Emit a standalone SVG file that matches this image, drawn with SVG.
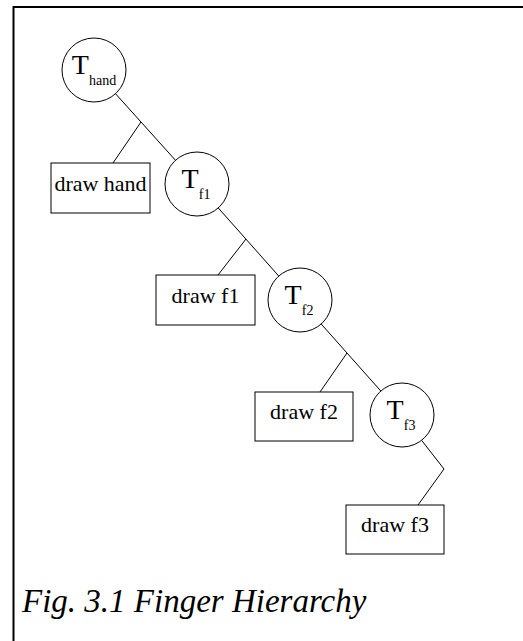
<svg xmlns="http://www.w3.org/2000/svg" width="523" height="641" viewBox="0 0 523 641">
<style>
.frame{stroke:#000;stroke-width:2;fill:none}
.node circle,.node rect{fill:#fff;stroke:#000;stroke-width:1}
.lbl{font-family:"Liberation Serif","Times New Roman",serif;font-size:22px;fill:#000;text-anchor:middle}
.tl{font-family:"Liberation Serif","Times New Roman",serif;font-size:28px;fill:#000;text-anchor:middle}
.sub{font-size:14px}
#connectors path{fill:none;stroke:#000;stroke-width:1}
.cap{font-family:"Liberation Serif","Times New Roman",serif;font-style:italic;font-size:33px;fill:#000}
</style>
<rect width="523" height="641" fill="#fff"/>
<path class="frame" d="M13.5,641 V7 H523"/>
<g id="connectors">
<path d="M115.5,93.7 L175.5,160.3"/>
<path d="M141,122 L113,163"/>
<path d="M218.2,207.9 L278.8,276.1"/>
<path d="M246,239 L218,275"/>
<path d="M321.2,324 L380.8,391"/>
<path d="M347,353 L320,392"/>
<path d="M421.6,440.3 L444,469 L418,505"/>
</g>
<g id="T_hand" class="node"><circle cx="94" cy="70" r="32"/><text class="tl" x="94" y="74">T<tspan class="sub" dy="11">hand</tspan></text></g>
<g id="draw_hand" class="node"><rect x="51" y="163" width="99" height="50"/><text class="lbl" x="100.5" y="190.5">draw hand</text></g>
<g id="T_f1" class="node"><circle cx="197" cy="184" r="32"/><text class="tl" x="196" y="188">T<tspan class="sub" dy="11">f1</tspan></text></g>
<g id="draw_f1" class="node"><rect x="156" y="275" width="99" height="50"/><text class="lbl" x="205.5" y="302.5">draw f1</text></g>
<g id="T_f2" class="node"><circle cx="300" cy="300" r="32"/><text class="tl" x="299" y="304">T<tspan class="sub" dy="11">f2</tspan></text></g>
<g id="draw_f2" class="node"><rect x="255" y="392" width="98" height="49"/><text class="lbl" x="304" y="419">draw f2</text></g>
<g id="T_f3" class="node"><circle cx="402" cy="415" r="32"/><text class="tl" x="401" y="419">T<tspan class="sub" dy="11">f3</tspan></text></g>
<g id="draw_f3" class="node"><rect x="346" y="505" width="98" height="49"/><text class="lbl" x="395" y="532">draw f3</text></g>
<text class="cap" x="22" y="612">Fig. 3.1 Finger Hierarchy</text>
</svg>
